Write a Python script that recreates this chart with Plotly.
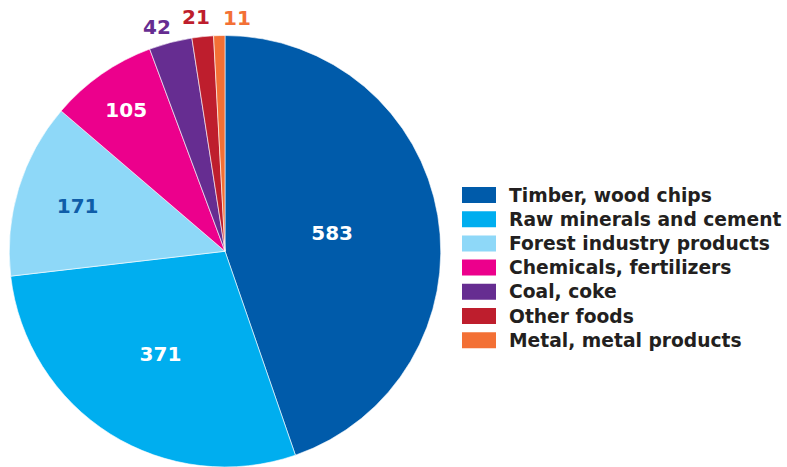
import plotly.graph_objects as go

categories = ["Timber, wood chips", "Raw minerals and cement", "Forest industry products",
              "Chemicals, fertilizers", "Coal, coke", "Other foods", "Metal, metal products"]
values = [583, 371, 171, 105, 42, 21, 11]
colors = ["#005BAA", "#00AEEF", "#8ED8F8", "#EC008C", "#662D91", "#BE1E2D", "#F37035"]
label_colors = ["#FFFFFF", "#FFFFFF", "#0F5DA8", "#FFFFFF", "#662D91", "#BE1E2D", "#F37035"]
inside = [True, True, True, True, False, False, False]

W, H = 787, 467
FONT = "DejaVu Sans"

texts = [str(v) if ins else "" for v, ins in zip(values, inside)]

fig = go.Figure(go.Pie(
    labels=categories, values=values, sort=False, direction="clockwise", rotation=0,
    marker=dict(colors=colors, line=dict(color="white", width=0.6)),
    text=texts, textinfo="text", textposition="inside", insidetextorientation="horizontal",
    insidetextfont=dict(family=FONT, size=20, color=label_colors, weight="bold"),
    domain=dict(x=[7 / W, 443 / W], y=[0, 1 - 35.5 / H]),
    hoverinfo="label+value", showlegend=False,
))

# outside labels for the small slices
out_pos = {4: (157, 27), 5: (196, 17), 6: (237, 18)}
for i, (px, py) in out_pos.items():
    fig.add_annotation(x=px / W, y=1 - py / H, xref="paper", yref="paper",
                       xanchor="center", yanchor="middle",
                       text=str(values[i]), showarrow=False,
                       font=dict(family=FONT, size=20, color=label_colors[i], weight="bold"))

# legend: wide rectangular swatches with bold labels
row0, row_gap = 195, 24.2
for i, (name, c) in enumerate(zip(categories, colors)):
    yc = row0 + row_gap * i
    fig.add_shape(type="rect", xref="paper", yref="paper",
                  x0=462 / W, x1=496 / W, y0=1 - (yc - 8) / H, y1=1 - (yc + 8) / H,
                  fillcolor=c, line=dict(width=0))
    fig.add_annotation(x=507 / W, y=1 - yc / H, xref="paper", yref="paper",
                       xanchor="left", yanchor="middle", showarrow=False, text=name,
                       font=dict(family=FONT, size=18.7, color="#231F20", weight="bold"))

fig.update_layout(
    width=W, height=H, margin=dict(l=0, r=0, t=0, b=0),
    paper_bgcolor="white", plot_bgcolor="white",
    showlegend=False,
)

fig.write_html("out.html", post_script="document.body.style.margin='0';",
               config={"displayModeBar": False})
